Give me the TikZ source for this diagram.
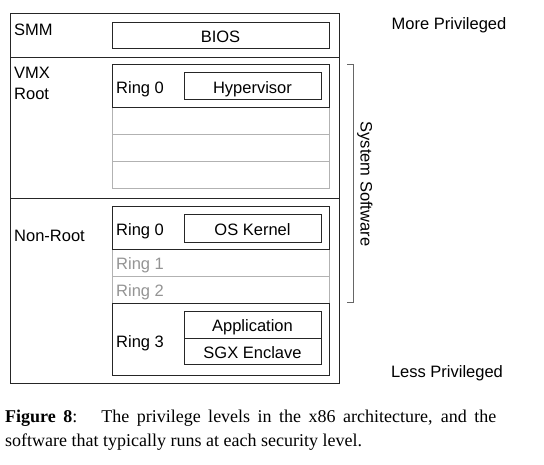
\documentclass[tikz,border=0pt]{standalone}
\usepackage{fontspec}
\setmainfont{Liberation Sans}
\newfontfamily\capfont{Liberation Serif}
\begin{document}
\begin{tikzpicture}[x=1pt,y=-1pt,
  box/.style={draw=black!85,line width=1pt,rectangle,inner sep=0pt,outer sep=0pt,anchor=north west},
  grayrow/.style={draw=black!30,line width=1pt,rectangle,inner sep=0pt,outer sep=0pt,anchor=north west},
  lbl/.style={font=\fontsize{16.5}{18}\selectfont,inner sep=0pt,anchor=base west},
  glbl/.style={lbl,text=black!42},
  ctext/.style={font=\fontsize{16.5}{18}\selectfont,inner sep=0pt,anchor=base}]
\useasboundingbox (0,0) rectangle (544,464);
\fill[white] (0,0) rectangle (544,464);
% outer rows
\node[box,minimum width=329pt,minimum height=44pt] (smmrow) at (10,13) {};
\node[box,minimum width=329pt,minimum height=141pt] (vmxrow) at (10,57) {};
\node[box,minimum width=329pt,minimum height=185pt] (nrrow) at (10,198) {};
% gray rows VMX
\node[grayrow,minimum width=217pt,minimum height=27pt] (vr1) at (112,107) {};
\node[grayrow,minimum width=217pt,minimum height=27pt] (vr2) at (112,134) {};
\node[grayrow,minimum width=217pt,minimum height=27pt] (vr3) at (112,161) {};
% gray rows non-root
\node[grayrow,minimum width=217pt,minimum height=27pt] (nr1) at (112,249) {};
\node[grayrow,minimum width=217pt,minimum height=27pt] (nr2) at (112,276) {};
% black boxes
\node[box,minimum width=217pt,minimum height=26pt] (bios) at (112,22) {};
\node[ctext] (biost) at (220.5,42) {BIOS};
\node[box,minimum width=217pt,minimum height=43pt] (vr0) at (112,64) {};
\node[box,minimum width=137pt,minimum height=27pt] (hyp) at (184,72) {};
\node[ctext] (hypt) at (252.5,93) {Hypervisor};
\node[box,minimum width=217pt,minimum height=43pt] (nr0) at (112,206) {};
\node[box,minimum width=137pt,minimum height=28pt] (osk) at (184,214) {};
\node[ctext] (oskt) at (252.5,235) {OS Kernel};
\node[box,minimum width=217pt,minimum height=72pt] (nr3) at (112,303) {};
\node[box,minimum width=137pt,minimum height=27pt] (app) at (184,311) {};
\node[ctext] (appt) at (252.5,331) {Application};
\node[box,minimum width=137pt,minimum height=26pt] (sgx) at (184,338) {};
\node[ctext] (sgxt) at (252.5,358) {SGX Enclave};
% labels
\node[lbl] (smm) at (14,35) {SMM};
\node[lbl] (vmx) at (14,78) {VMX};
\node[lbl] (root) at (14,99) {Root};
\node[lbl] (nonroot) at (14,241) {Non-Root};
\node[lbl] (l0a) at (116,93) {Ring 0};
\node[lbl] (l0b) at (116,235) {Ring 0};
\node[glbl] (l1) at (116,269) {Ring 1};
\node[glbl] (l2) at (116,296) {Ring 2};
\node[lbl] (l3) at (116,347) {Ring 3};
% bracket
\coordinate (bt0) at (347,64);
\coordinate (bt1) at (353,64);
\coordinate (bb1) at (353,302);
\coordinate (bb0) at (347,302);
\draw[black!60,line width=1pt] (bt0) -- (bt1) -- (bb1) -- (bb0);
\node[font=\fontsize{16.5}{18}\selectfont,inner sep=0pt,rotate=-90] (sys) at (365,184) {System Software};
\node[ctext] (more) at (449,29) {More Privileged};
\node[ctext] (less) at (447,377) {Less Privileged};
% caption
\node[inner sep=0pt,anchor=base west,font=\capfont\fontsize{18}{24}\selectfont] (cap1) at (5,422) {\hbox to 491pt{\textbf{Figure 8}:\hspace{24pt}The privilege levels in the x86 architecture, and the}};
\node[inner sep=0pt,anchor=base west,font=\capfont\fontsize{18}{24}\selectfont] (cap2) at (5,446) {software that typically runs at each security level.};
\end{tikzpicture}
\end{document}
